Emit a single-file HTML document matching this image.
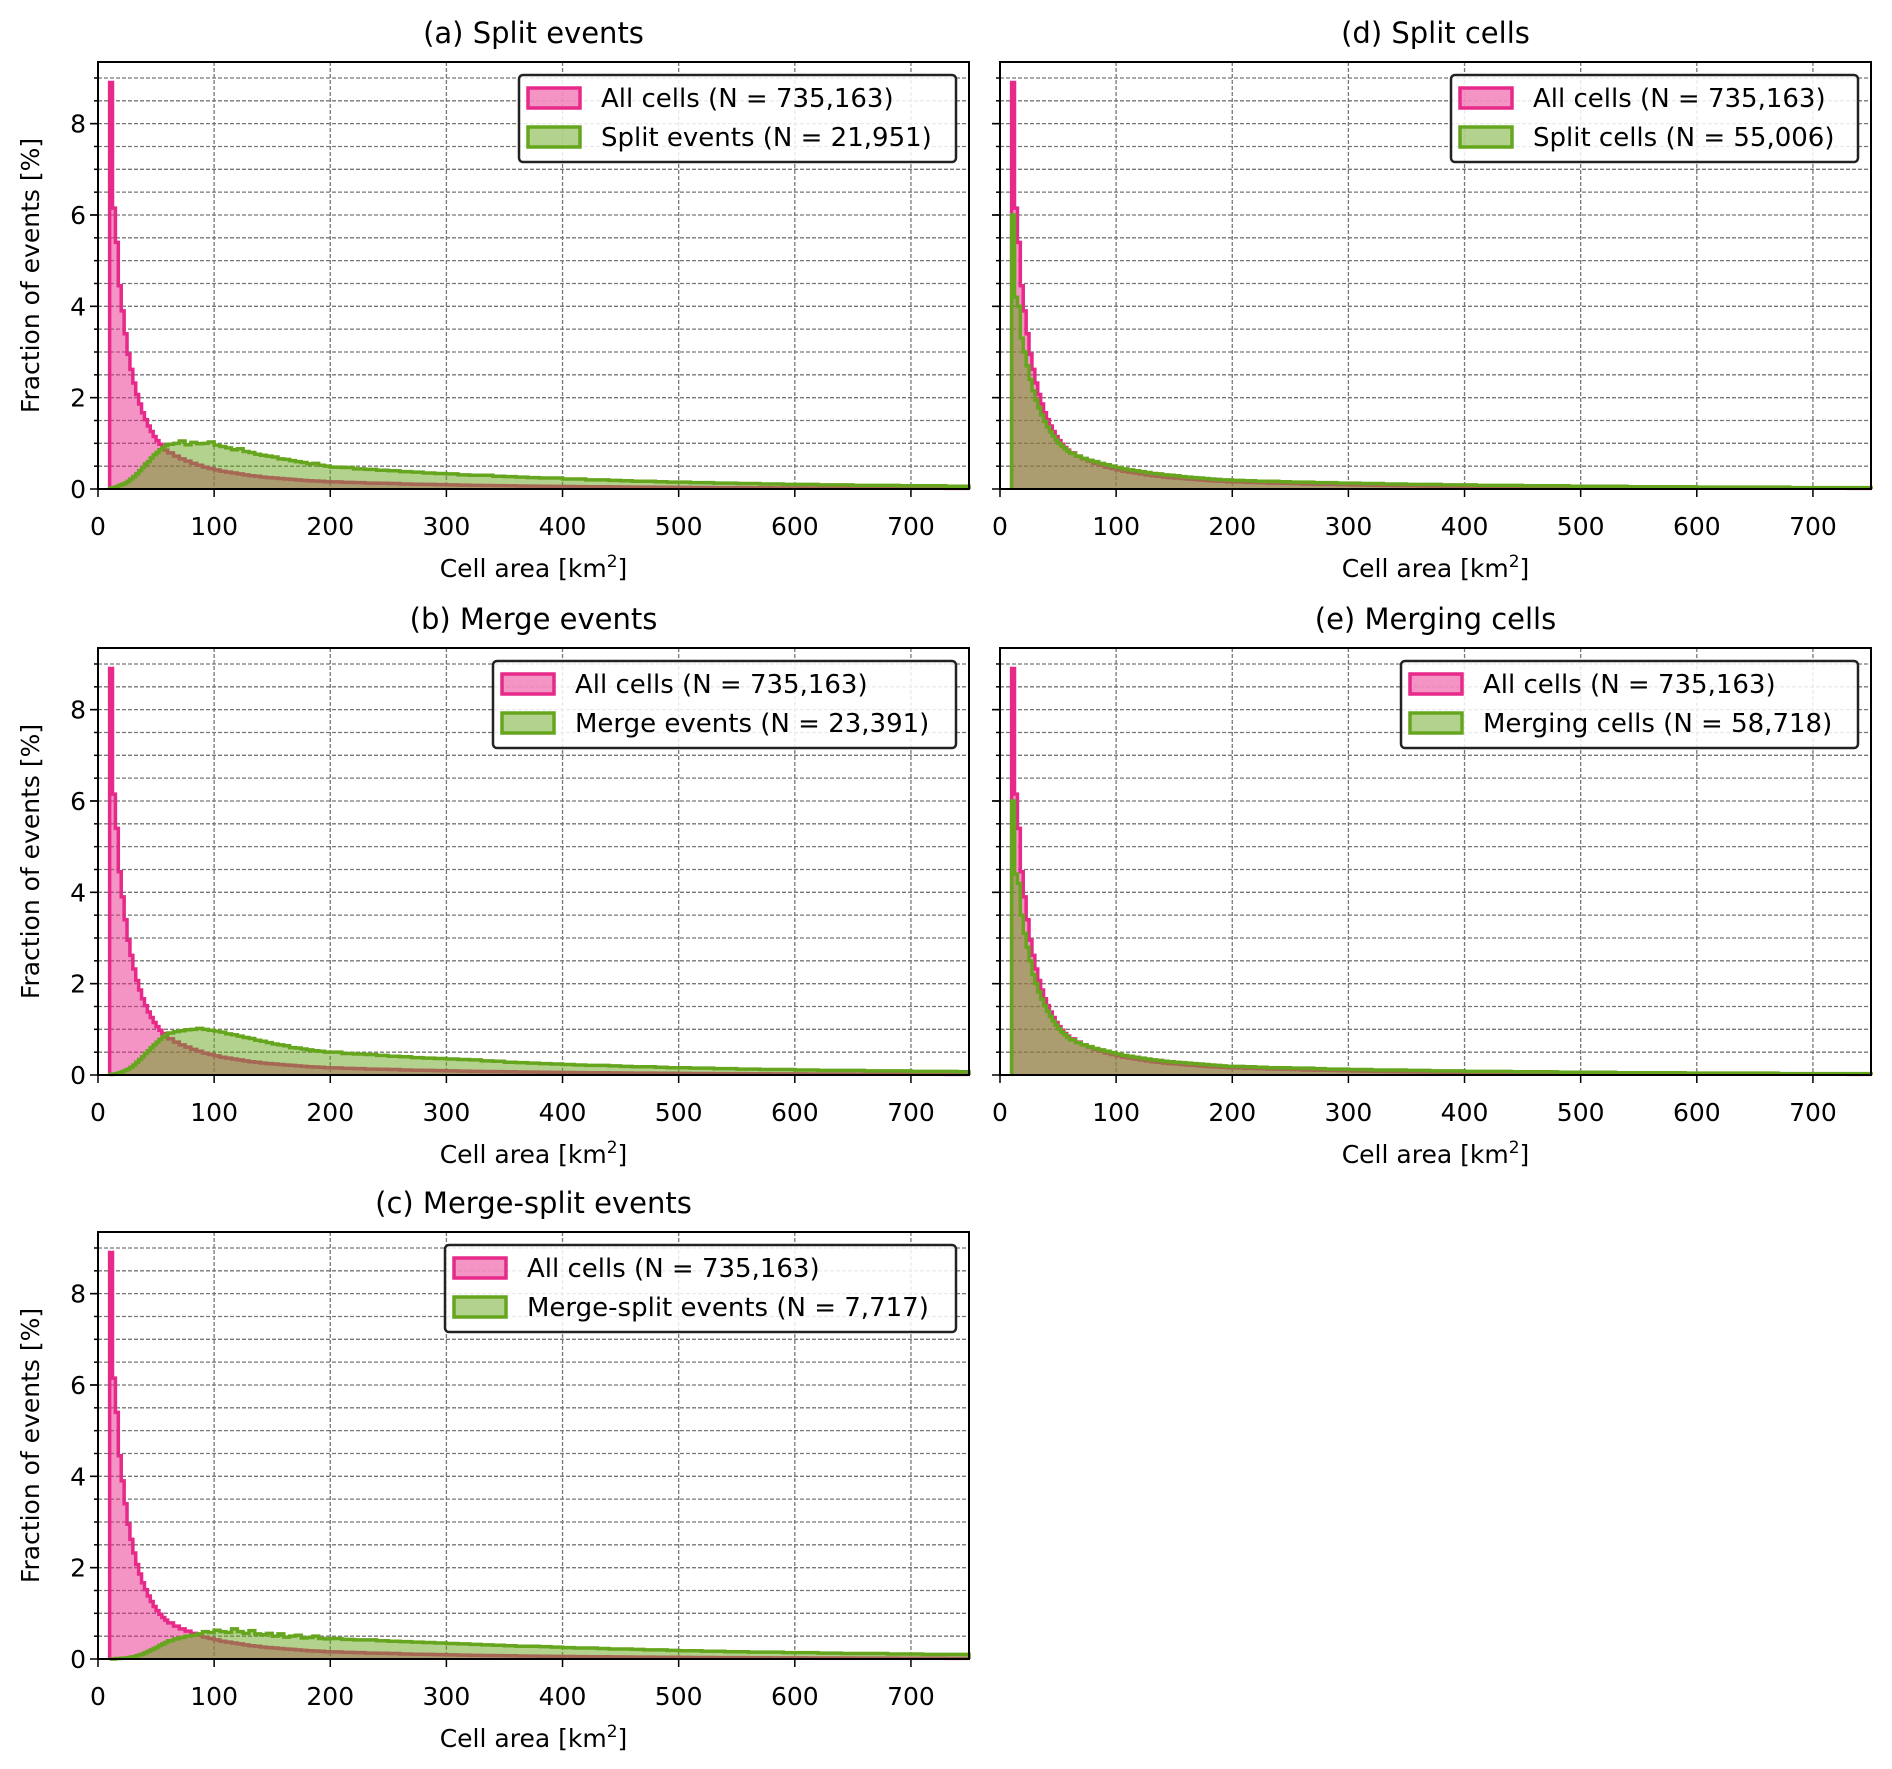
<!DOCTYPE html>
<html><head><meta charset="utf-8"><style>
body{margin:0;background:#fff;}
svg{display:block;font-family:"DejaVu Sans","Liberation Sans",sans-serif;}
</style></head><body>
<svg id="fig" width="1892" height="1769" viewBox="0 0 1892 1769" xmlns="http://www.w3.org/2000/svg"></svg>
<script>
// ---- data (bin segments in km²) ----
const binSegStart = [10, 60, 200];
const binSegWidth = [2.5, 5, 10];
const binSegCount = [20, 28, 55];
const xTicks = [0,100,200,300,400,500,600,700];
const yTicks = [0,2,4,6,8];
const allCells = [8.9,6.15,5.4,4.45,3.9,3.4,2.95,2.62,2.32,2.07,1.86,1.67,1.52,1.38,1.26,1.15,1.06,0.98,0.91,0.85,
0.79,0.72,0.66,0.61,0.56,0.52,0.48,0.45,0.42,0.39,0.37,0.35,0.33,0.31,0.29,0.28,0.26,0.25,0.24,0.23,0.22,0.21,0.20,0.19,0.18,0.175,0.17,0.16,
0.155,0.145,0.14,0.13,0.125,0.12,0.11,0.105,0.10,0.095,0.09,0.085,0.08,0.078,0.074,0.07,0.067,0.063,0.06,0.057,0.055,0.052,0.05,0.048,0.046,0.044,0.042,0.04,0.038,0.037,0.035,0.034,0.032,0.031,0.03,0.029,0.028,0.027,0.026,0.025,0.024,0.023,0.022,0.021,0.021,0.02,0.019,0.019,0.018,0.017,0.017,0.016,0.016,0.015,0.015];
const splitEvents = [0.02,0.03,0.05,0.08,0.1,0.13,0.17,0.22,0.27,0.33,0.4,0.47,0.55,0.6,0.68,0.75,0.8,0.86,0.9,0.95,
0.98,1.0,1.05,0.97,1.02,0.99,1.0,1.03,0.96,0.93,0.9,0.86,0.88,0.82,0.8,0.76,0.74,0.72,0.7,0.66,0.65,0.62,0.6,0.58,0.55,0.56,0.52,0.5,
0.48,0.47,0.44,0.43,0.41,0.4,0.38,0.37,0.35,0.34,0.33,0.31,0.3,0.3,0.28,0.27,0.26,0.25,0.24,0.24,0.22,0.22,0.2,0.2,0.19,0.18,0.17,0.17,0.16,0.15,0.15,0.14,0.14,0.13,0.13,0.12,0.12,0.11,0.11,0.1,0.1,0.1,0.09,0.09,0.09,0.08,0.08,0.08,0.08,0.07,0.07,0.07,0.07,0.06,0.06];
const mergeEvents = [0.01,0.02,0.03,0.05,0.07,0.1,0.13,0.17,0.22,0.28,0.34,0.4,0.47,0.53,0.6,0.66,0.72,0.78,0.83,0.88,
0.92,0.95,0.97,0.99,1.0,1.02,1.0,0.98,0.96,0.94,0.9,0.88,0.85,0.82,0.8,0.76,0.74,0.71,0.68,0.66,0.64,0.6,0.59,0.57,0.55,0.53,0.52,0.5,
0.5,0.47,0.46,0.45,0.43,0.41,0.4,0.38,0.37,0.36,0.35,0.34,0.33,0.31,0.3,0.28,0.27,0.26,0.25,0.24,0.23,0.22,0.21,0.21,0.2,0.19,0.18,0.18,0.17,0.16,0.16,0.15,0.15,0.14,0.14,0.13,0.13,0.12,0.12,0.12,0.11,0.11,0.1,0.1,0.1,0.1,0.09,0.09,0.09,0.09,0.08,0.08,0.08,0.08,0.07];
const mergeSplitEvents = [0.0,0.0,0.01,0.01,0.02,0.02,0.03,0.04,0.05,0.07,0.09,0.11,0.14,0.17,0.2,0.23,0.26,0.3,0.33,0.36,
0.4,0.44,0.47,0.5,0.52,0.55,0.6,0.58,0.63,0.6,0.58,0.66,0.6,0.56,0.62,0.55,0.53,0.56,0.5,0.55,0.48,0.5,0.52,0.46,0.47,0.5,0.45,0.44,
0.45,0.43,0.42,0.42,0.4,0.39,0.38,0.37,0.36,0.35,0.34,0.33,0.32,0.31,0.3,0.29,0.28,0.28,0.27,0.26,0.25,0.24,0.24,0.23,0.22,0.22,0.21,0.2,0.2,0.19,0.18,0.18,0.17,0.17,0.16,0.16,0.15,0.15,0.15,0.14,0.14,0.14,0.13,0.13,0.12,0.12,0.12,0.12,0.11,0.11,0.11,0.1,0.1,0.1,0.1];
const splitCells = [6.0,4.2,4.0,3.3,3.0,2.7,2.4,2.15,1.95,1.78,1.62,1.48,1.36,1.25,1.16,1.07,1.0,0.94,0.88,0.83,
0.78,0.72,0.67,0.63,0.6,0.56,0.53,0.5,0.47,0.44,0.42,0.4,0.38,0.36,0.34,0.33,0.31,0.3,0.29,0.27,0.26,0.25,0.24,0.23,0.22,0.21,0.2,0.2,
0.19,0.18,0.17,0.17,0.16,0.15,0.15,0.14,0.14,0.13,0.13,0.12,0.12,0.11,0.11,0.1,0.1,0.1,0.09,0.09,0.09,0.08,0.08,0.08,0.08,0.07,0.07,0.07,0.07,0.06,0.06,0.06,0.06,0.06,0.05,0.05,0.05,0.05,0.05,0.05,0.04,0.04,0.04,0.04,0.04,0.04,0.04,0.04,0.03,0.03,0.03,0.03,0.03,0.03,0.03];
const mergingCells = [6.0,4.4,4.2,3.5,3.1,2.8,2.5,2.2,2.0,1.82,1.66,1.52,1.4,1.28,1.18,1.09,1.01,0.94,0.88,0.82,
0.77,0.71,0.66,0.62,0.58,0.55,0.52,0.49,0.46,0.43,0.41,0.39,0.37,0.35,0.33,0.32,0.3,0.29,0.28,0.27,0.26,0.25,0.24,0.23,0.22,0.21,0.2,0.19,
0.19,0.18,0.17,0.16,0.16,0.15,0.15,0.14,0.13,0.13,0.12,0.12,0.11,0.11,0.11,0.1,0.1,0.09,0.09,0.09,0.08,0.08,0.08,0.08,0.07,0.07,0.07,0.07,0.06,0.06,0.06,0.06,0.06,0.05,0.05,0.05,0.05,0.05,0.05,0.04,0.04,0.04,0.04,0.04,0.04,0.04,0.04,0.03,0.03,0.03,0.03,0.03,0.03,0.03,0.03];
const panelTitles = ["(a) Split events","(b) Merge events","(c) Merge-split events","(d) Split cells","(e) Merging cells"];
const legendLabels = ["Split events (N = 21,951)","Merge events (N = 23,391)","Merge-split events (N = 7,717)","Split cells (N = 55,006)","Merging cells (N = 58,718)"];
const panelSeries = [splitEvents, mergeEvents, mergeSplitEvents, splitCells, mergingCells];

// ---- layout ----
const panelX = [98,98,98,1000,1000];
const panelY = [62,648,1232,62,648];
const PW = 871, PH = 427;
const legendLeft = [519,493,445,1451,1401];
const XMAX = 750, YMAX = 9.35;
const NS = "http://www.w3.org/2000/svg";
const svg = document.getElementById('fig');
function mk(tag, attrs, parent){ const e=document.createElementNS(NS,tag); for(const k in attrs) e.setAttribute(k,attrs[k]); (parent||svg).appendChild(e); return e; }

const edges = [];
for(let s=0;s<binSegStart.length;s++) for(let i=0;i<binSegCount[s];i++) edges.push(binSegStart[s]+i*binSegWidth[s]);
edges.push(binSegStart[2]+binSegCount[2]*binSegWidth[2]);

for(let p=0;p<5;p++){
  const ox=panelX[p], oy=panelY[p];
  const sx = v => ox + v/XMAX*PW;
  const sy = v => oy + PH - v/YMAX*PH;
  const g = mk('g',{});
  
  
  for(let v=0.5; v<YMAX; v+=0.5){
    const l=mk('line',{x1:ox,x2:ox+PW,y1:sy(v),y2:sy(v),stroke:'#777','stroke-width':1.3,'stroke-dasharray':'4,2'},g);
     
  }
  for(const t of xTicks){ if(t===0) continue;
    const l=mk('line',{x1:sx(t),x2:sx(t),y1:oy,y2:oy+PH,stroke:'#777','stroke-width':1.3,'stroke-dasharray':'4,2'},g);
     
  }
  function hist(vals, fill, stroke, name){
    let d='M'+sx(edges[0])+','+sy(0);
    for(let i=0;i<vals.length;i++){ d+=' L'+sx(edges[i])+','+sy(vals[i])+' L'+sx(edges[i+1])+','+sy(vals[i]); }
    d+=' L'+sx(edges[vals.length])+','+sy(0);
    const a=mk('path',{d:d+' Z',fill:fill,stroke:'none'},g);
     
    const b=mk('path',{d:d,fill:'none',stroke:stroke,'stroke-width':3.5,'stroke-linejoin':'miter'},g);
     
  }
  hist(allCells,'rgba(231,41,138,0.5)','#e7298a','all-cells-histogram');
  hist(panelSeries[p],'rgba(102,166,30,0.5)','#66a61e','subset-histogram');
  const fr=mk('rect',{x:ox,y:oy,width:PW,height:PH,fill:'none',stroke:'#000','stroke-width':2},g);
   
  for(const t of xTicks){
    mk('line',{x1:sx(t),x2:sx(t),y1:oy+PH,y2:oy+PH+8,stroke:'#000','stroke-width':1.5},g);
    const tx=mk('text',{x:sx(t),y:oy+PH+46,'text-anchor':'middle','font-size':25,fill:'#000'},g);
    tx.textContent=t;  
  }
  for(let v=0.5; v<YMAX; v+=0.5){
    const major = yTicks.indexOf(v)>=0;
    mk('line',{x1:ox-(major?8:4),x2:ox,y1:sy(v),y2:sy(v),stroke:'#000','stroke-width':1.5},g);
  }
  for(const t of yTicks){
    mk('line',{x1:ox-8,x2:ox,y1:sy(t),y2:sy(t),stroke:'#000','stroke-width':1.5},g);
    if(p<3){
      const ty=mk('text',{x:ox-12,y:sy(t)+9,'text-anchor':'end','font-size':25,fill:'#000'},g);
      ty.textContent=t;  
    }
  }
  const ti=mk('text',{x:ox+PW/2,y:oy-19,'text-anchor':'middle','font-size':29,fill:'#000'},g);
  ti.textContent=panelTitles[p];  
  const xl=mk('text',{x:ox+PW/2,y:oy+PH+88,'text-anchor':'middle','font-size':25,fill:'#000'},g);
  xl.innerHTML='Cell area [km<tspan dy="-10" font-size="17">2</tspan><tspan dy="10">]</tspan>';
   
  if(p<3){
    const yl=mk('text',{x:0,y:0,'text-anchor':'middle','font-size':25,fill:'#000',transform:'translate(39,'+(oy+PH/2)+') rotate(-90)'},g);
    yl.textContent='Fraction of events [%]';  
  }
  const lx=legendLeft[p], ly=oy+13, lw=ox+PW-13-lx;
  const lg=mk('g',{},g);
   
  mk('rect',{x:lx,y:ly,width:lw,height:87,rx:4,fill:'rgba(255,255,255,0.85)',stroke:'#222','stroke-width':2.5},lg);
  const rows=[['All cells (N = 735,163)','rgba(231,41,138,0.5)','#e7298a'],[legendLabels[p],'rgba(102,166,30,0.5)','#66a61e']];
  rows.forEach((r,i)=>{
    const cy=ly+23+i*39;
    const pr=mk('rect',{x:lx+9,y:cy-10,width:52,height:20,fill:r[1],stroke:r[2],'stroke-width':3.5},lg);
     
    const t=mk('text',{x:lx+82,y:cy+9,'font-size':26,fill:'#000'},lg);
    t.textContent=r[0];  
  });
}
</script>
</body></html>
